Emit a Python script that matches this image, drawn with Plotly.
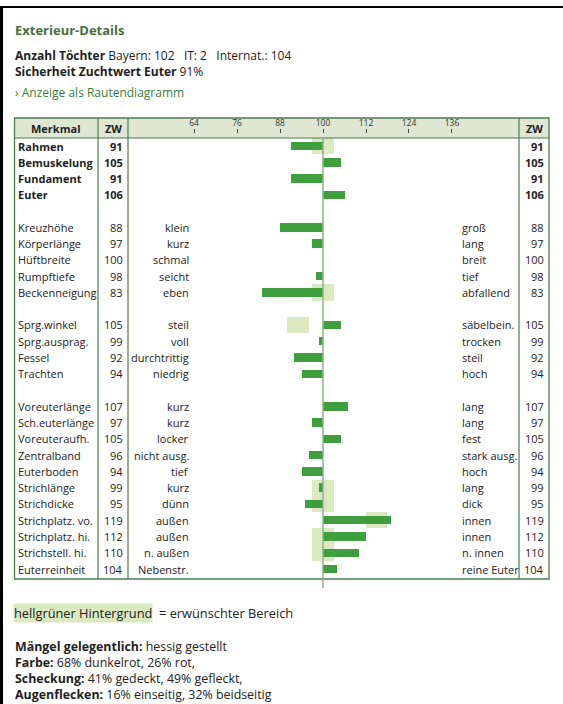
import plotly.graph_objects as go

W, H = 563, 704

# ---------------- data ----------------
merkmal = ["Rahmen", "Bemuskelung", "Fundament", "Euter", "",
           "Kreuzhöhe", "Körperlänge", "Hüftbreite", "Rumpftiefe", "Beckenneigung", "",
           "Sprg.winkel", "Sprg.ausprag.", "Fessel", "Trachten", "",
           "Voreuterlänge", "Sch.euterlänge", "Voreuteraufh.", "Zentralband", "Euterboden",
           "Strichlänge", "Strichdicke", "Strichplatz. vo.", "Strichplatz. hi.",
           "Strichstell. hi.", "Euterreinheit"]
zw = [91, 105, 91, 106, None,
      88, 97, 100, 98, 83, None,
      105, 99, 92, 94, None,
      107, 97, 105, 96, 94, 99, 95, 119, 112, 110, 104]
left_desc = ["", "", "", "", "",
             "klein", "kurz", "schmal", "seicht", "eben", "",
             "steil", "voll", "durchtrittig", "niedrig", "",
             "kurz", "kurz", "locker", "nicht ausg.", "tief", "kurz", "dünn",
             "außen", "außen", "n. außen", "Nebenstr."]
right_desc = ["", "", "", "", "",
              "groß", "lang", "breit", "tief", "abfallend", "",
              "säbelbein.", "trocken", "steil", "hoch", "",
              "lang", "lang", "fest", "stark ausg.", "hoch", "lang", "dick",
              "innen", "innen", "n. innen", "reine Euter"]
bold_rows = ["Rahmen", "Bemuskelung", "Fundament", "Euter"]

# desired ranges (light green background)
band_rows = ["Rahmen", "Beckenneigung", "Sprg.winkel", "Strichlänge", "Strichdicke",
             "Strichplatz. vo.", "Strichplatz. hi.", "Strichstell. hi."]
band_lo = [97, 97, 90, 97, 97, 112, 97, 97]
band_hi = [103, 103, 96, 103, 103, 118, 103, 103]

tick_vals = [64, 76, 88, 100, 112, 124, 136]
BASE = 100

info_lines = ["<b>Anzahl Töchter</b> Bayern: 102\u00a0\u00a0\u00a0IT: 2\u00a0\u00a0\u00a0Internat.: 104",
              "<b>Sicherheit Zuchtwert Euter</b> 91%"]
note_lines = ["<b>Mängel gelegentlich:</b> hessig gestellt",
              "<b>Farbe:</b> 68% dunkelrot, 26% rot,",
              "<b>Scheckung:</b> 41% gedeckt, 49% gefleckt,",
              "<b>Augenflecken:</b> 16% einseitig, 32% beidseitig"]

# ---------------- helpers ----------------
def px(x):
    return x / W

def py(y):
    return 1 - y / H

slot = {name: i for i, name in enumerate(merkmal) if name}
FONT = "Open Sans"
TXT = "#222222"
GREEN_DARK = "#4d7b4d"
BAR = "#3f9f3f"
BAND = "#dde9c3"

fig = go.Figure()

# background bands
fig.add_trace(go.Bar(
    y=[slot[r] for r in band_rows],
    x=[h - l for l, h in zip(band_lo, band_hi)],
    base=band_lo, orientation="h", width=1.0,
    marker=dict(color=BAND, line=dict(width=0)),
    hoverinfo="skip", showlegend=False))

# value bars
rows_idx = [i for i, v in enumerate(zw) if v is not None]
fig.add_trace(go.Bar(
    y=rows_idx,
    x=[zw[i] - BASE for i in rows_idx],
    base=BASE, orientation="h", width=0.52,
    marker=dict(color=BAR, line=dict(width=0)),
    hoverinfo="skip", showlegend=False))

# invisible trace for tick axis
fig.add_trace(go.Scatter(x=[tick_vals[0], tick_vals[-1]], y=[0, 0], xaxis="x2",
                         mode="markers", marker=dict(opacity=0),
                         hoverinfo="skip", showlegend=False))

xr = [BASE - (323 - 128) / 3.583, BASE + (519 - 323) / 3.583]
yr = [(579 - 146) / 16.27, (138 - 146) / 16.27]

fig.update_layout(
    width=W, height=H,
    margin=dict(l=0, r=0, t=0, b=0),
    paper_bgcolor="white", plot_bgcolor="rgba(0,0,0,0)",
    barmode="overlay", bargap=0,
    font=dict(family=FONT, size=11, color=TXT),
    xaxis=dict(domain=[px(128), px(519)], range=xr, visible=False, fixedrange=True),
    xaxis2=dict(domain=[px(128), px(519)], range=xr, overlaying="x", anchor="free",
                position=py(133), side="top", tickvals=tick_vals,
                ticks="outside", ticklen=4, tickwidth=1, tickcolor="#444",
                tickfont=dict(size=8.5, color="#333"), showgrid=False,
                showline=False, zeroline=False, fixedrange=True),
    yaxis=dict(domain=[py(579), py(138)], range=yr, visible=False, fixedrange=True),
)

shapes = []
# black frame of screenshot
shapes.append(dict(type="rect", xref="paper", yref="paper", x0=0, x1=px(3),
                   y0=0, y1=py(6), fillcolor="black", line=dict(width=0)))
shapes.append(dict(type="rect", xref="paper", yref="paper", x0=0, x1=1,
                   y0=py(8), y1=py(6), fillcolor="black", line=dict(width=0)))
# header background
shapes.append(dict(type="rect", xref="paper", yref="paper", x0=px(14.5), x1=px(549),
                   y0=py(138), y1=py(118), fillcolor="#dfe6d4", line=dict(width=0),
                   layer="below"))
# table borders
shapes.append(dict(type="rect", xref="paper", yref="paper", x0=px(14.5), x1=px(549),
                   y0=py(579), y1=py(118), line=dict(color=GREEN_DARK, width=1.3)))
for xv in [98, 128, 519]:
    shapes.append(dict(type="line", xref="paper", yref="paper", x0=px(xv), x1=px(xv),
                       y0=py(579), y1=py(118), line=dict(color=GREEN_DARK, width=1.2)))
shapes.append(dict(type="line", xref="paper", yref="paper", x0=px(14.5), x1=px(549),
                   y0=py(138), y1=py(138), line=dict(color=GREEN_DARK, width=1.2)))
# centre line at 100
shapes.append(dict(type="line", xref="x", yref="paper", x0=BASE, x1=BASE,
                   y0=py(588), y1=py(138), line=dict(color="#8cb585", width=1.5),
                   layer="above"))
fig.update_layout(shapes=shapes)

ann = []

def add(text, x, y, xanchor="left", size=11, color=TXT, yref="paper", yanchor="middle", **kw):
    ann.append(dict(text=text, x=x, y=y, xref="paper", yref=yref, xanchor=xanchor,
                    yanchor=yanchor, showarrow=False,
                    font=dict(family=FONT, size=size, color=color), **kw))

# header texts
add("<b>Exterieur-Details</b>", px(13), py(30), size=13, color="#456f3d")
add("<br>".join(info_lines), px(13), py(45), size=12, yanchor="top", align="left")
add("› Anzeige als Rautendiagramm", px(13), py(93), size=12, color="#3b7d3b")

# table header
add("<b>Merkmal</b>", px(56), py(128), xanchor="center")
add("<b>ZW</b>", px(113), py(128), xanchor="center")
add("<b>ZW</b>", px(534), py(128), xanchor="center")

# table rows
for i, name in enumerate(merkmal):
    if not name:
        continue
    b = name in bold_rows
    fmt = (lambda s: f"<b>{s}</b>") if b else (lambda s: s)
    add(fmt(name), px(15.5), i, yref="y")
    add(fmt(str(zw[i])), px(125.5), i, xanchor="right", yref="y")
    if left_desc[i]:
        add(left_desc[i], px(190.5), i, xanchor="right", yref="y")
    if right_desc[i]:
        add(right_desc[i], px(459.5), i, yref="y")
    add(fmt(str(zw[i])), px(545.5), i, xanchor="right", yref="y")

# legend / notes
add("hellgrüner Hintergrund", px(13), py(613), size=12.8, bgcolor="#dbe9c0", borderpad=0)
add("= erwünschter Bereich", px(157), py(613), size=12.8)
add("<br>".join(note_lines), px(13), py(636), size=12.4, yanchor="top", align="left")

fig.update_layout(annotations=ann)

fig.write_html("out.html", config=dict(displayModeBar=False))

# remove default page margin so the figure sits at the window's origin
with open("out.html", encoding="utf-8") as f:
    html = f.read()
html = html.replace("<head>", "<head><style>html,body{margin:0;padding:0;}</style>", 1)
with open("out.html", "w", encoding="utf-8") as f:
    f.write(html)
